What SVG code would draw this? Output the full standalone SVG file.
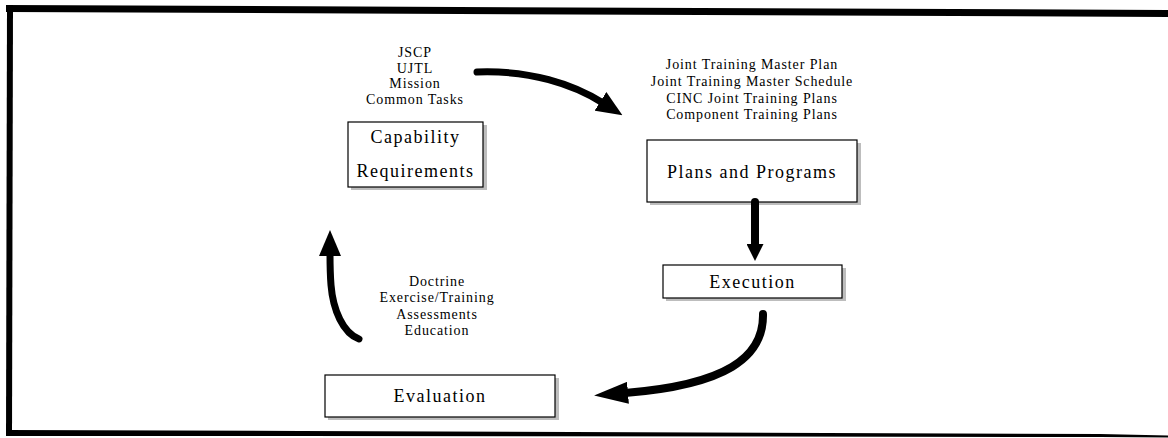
<svg xmlns="http://www.w3.org/2000/svg" width="1168" height="438" viewBox="0 0 1168 438">
<style>
.box{fill:#fff;stroke:#000;stroke-width:1.2}
.shadow{fill:#bdbdbd}
.big{font-family:"Liberation Serif","Times New Roman",serif;font-size:18px;letter-spacing:1.5px;fill:#000;text-anchor:middle}
.small{font-family:"Liberation Serif","Times New Roman",serif;font-size:14px;letter-spacing:0.9px;fill:#000;text-anchor:middle}
.shaft{fill:none;stroke:#000;stroke-linecap:round}
</style>
<defs>
<marker id="headL" markerUnits="userSpaceOnUse" viewBox="0 0 26 22" markerWidth="26" markerHeight="22" refX="3" refY="11" orient="auto">
<path d="M0,0 L26,11 L0,22 z" fill="#000"/>
</marker>
<marker id="headLong" markerUnits="userSpaceOnUse" viewBox="0 0 34 22" markerWidth="34" markerHeight="22" refX="3" refY="11" orient="auto">
<path d="M0,0 L34,11 L0,22 z" fill="#000"/>
</marker>
<marker id="headS" markerUnits="userSpaceOnUse" viewBox="0 0 17 17" markerWidth="17" markerHeight="17" refX="1" refY="8.5" orient="auto">
<path d="M0,0 L17,8.5 L0,17 z" fill="#000"/>
</marker>
</defs>
<rect width="1168" height="438" fill="#fff"/>
<g id="frame">
<polygon points="6,5 1168,10 1168,17 6,12" fill="#000"/>
<polygon points="7,5 13,5 12,436 6,436" fill="#000"/>
<polygon points="6,430 300,431 1100,434 1168,435.5 1168,437.5 1100,437 300,436 6,436" fill="#000"/>
</g>
<g id="labels-requirements">
<text class="small" x="415" y="57">JSCP</text>
<text class="small" x="415" y="72.5">UJTL</text>
<text class="small" x="415" y="88">Mission</text>
<text class="small" x="415" y="103.5">Common Tasks</text>
</g>
<g id="labels-plans">
<text class="small" x="752" y="69">Joint Training Master Plan</text>
<text class="small" x="752" y="86">Joint Training Master Schedule</text>
<text class="small" x="752" y="102.5">CINC Joint Training Plans</text>
<text class="small" x="752" y="119">Component Training Plans</text>
</g>
<g id="labels-evaluation">
<text class="small" x="437" y="286">Doctrine</text>
<text class="small" x="437" y="302">Exercise/Training</text>
<text class="small" x="437" y="318.5">Assessments</text>
<text class="small" x="437" y="334.5">Education</text>
</g>
<g id="node-capability">
<rect class="shadow" x="351" y="125" width="136" height="65"/>
<rect class="box" x="348" y="122" width="135" height="65"/>
<text class="big" x="415.5" y="143">Capability</text>
<text class="big" x="415.5" y="177">Requirements</text>
</g>
<g id="node-plans">
<rect class="shadow" x="650" y="143" width="211" height="62"/>
<rect class="box" x="647" y="140" width="210" height="62"/>
<text class="big" x="752" y="178">Plans and Programs</text>
</g>
<g id="node-execution">
<rect class="shadow" x="666" y="268" width="180" height="33"/>
<rect class="box" x="663" y="265" width="179" height="33"/>
<text class="big" x="752.5" y="287.5">Execution</text>
</g>
<g id="node-evaluation">
<rect class="shadow" x="328" y="378" width="231" height="42"/>
<rect class="box" x="325" y="375" width="230" height="42"/>
<text class="big" x="440" y="402">Evaluation</text>
</g>
<g id="connectors">
<path class="shaft" stroke-width="7" d="M477,72 C530,70 573,84 603,103" marker-end="url(#headL)"/>
<path class="shaft" stroke-width="8" stroke-linecap="butt" d="M755,202 L755,245" marker-end="url(#headS)"/>
<path class="shaft" stroke-width="8" d="M763,314 C764,358 725,385 625,393" marker-end="url(#headLong)"/>
<path class="shaft" stroke-width="7" d="M359,339 C343,333 333,310 331,285 C330,272 330,262 330,253" marker-end="url(#headL)"/>
</g>
</svg>
